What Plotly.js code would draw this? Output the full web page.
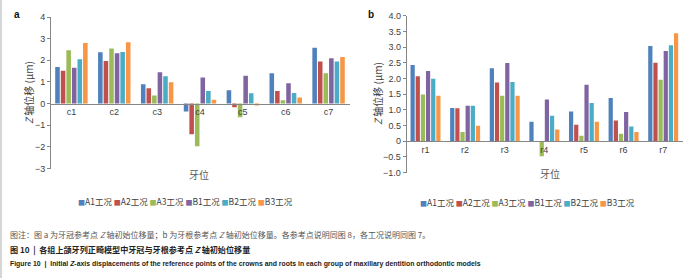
<!DOCTYPE html>
<html><head><meta charset="utf-8">
<script src="https://cdn.plot.ly/plotly-3.0.1.min.js"></script>
<style>html,body{margin:0;padding:0;background:#fff;}#chart{width:696px;height:278px;}</style>
</head><body><div id="chart"></div>
<script>
// ---- data ----
const categoriesA = ['c1','c2','c3','c4','c5','c6','c7'];
const categoriesB = ['r1','r2','r3','r4','r5','r6','r7'];
const seriesNames = ['A1工况','A2工况','A3工况','B1工况','B2工况','B3工况'];
const seriesColors = ['#4F81BD','#C0504D','#9BBB59','#8064A2','#4BACC6','#F79646'];

// panel a: crown reference points
const crownA1 = [1.69, 2.37, 0.89, -0.37, 0.62, 1.40, 2.58];
const crownA2 = [1.52, 1.97, 0.71, -1.42, -0.17, 0.58, 1.94];
const crownA3 = [2.46, 2.55, 0.37, -1.97, -0.63, 0.15, 1.40];
const crownB1 = [1.66, 2.32, 1.45, 1.20, 1.28, 0.94, 2.09];
const crownB2 = [2.05, 2.38, 1.26, 0.58, 0.48, 0.49, 1.94];
const crownB3 = [2.80, 2.83, 0.98, 0.18, -0.09, 0.28, 2.15];

// panel b: root reference points
const rootA1 = [2.43, 1.06, 2.33, 0.62, 0.95, 1.38, 3.04];
const rootA2 = [2.07, 1.05, 1.87, -0.03, 0.52, 0.66, 2.50];
const rootA3 = [1.49, 0.29, 1.45, -0.48, 0.17, 0.24, 1.96];
const rootB1 = [2.24, 1.13, 2.49, 1.33, 1.80, 0.93, 2.88];
const rootB2 = [1.99, 1.13, 1.89, 0.81, 1.22, 0.47, 3.06];
const rootB3 = [1.45, 0.49, 1.45, 0.37, 0.62, 0.29, 3.44];

const tickValsA = [-3,-2,-1,0,1,2,3,4];
const tickTextA = ['\u22123','\u22122','\u22121','0','1','2','3','4'];
const tickValsB = [-1,-0.5,0,0.5,1,1.5,2,2.5,3,3.5,4];
const tickTextB = ['\u22121.0','\u22120.5','0','0.5','1.0','1.5','2.0','2.5','3.0','3.5','4.0'];

const yTitle = '<i>Z</i> 轴位移 (μm)';
const xTitle = '牙位';
const captionNote = '图注：图 a 为牙冠参考点 <i>Z</i> 轴初始位移量；b 为牙根参考点 <i>Z</i> 轴初始位移量。各参考点说明同图 8，各工况说明同图 7。';
const captionCn = '<b>图 10  |  各组上颌牙列正畸模型中牙冠与牙根参考点 <i>Z</i> 轴初始位移量</b>';
const captionEn = '<b>Figure 10  |  Initial <i>Z</i>-axis displacements of the reference points of the crowns and roots in each group of maxillary dentition orthodontic models</b>';

// ---- layout geometry ----
const W = 696, H = 278;
const fx = p => p / W;
const fy = p => 1 - p / H;
const rangeA = [-3, 4], rangeB = [-1, 4];
const domAx = [fx(50), fx(350)], domAy = [fy(168.5), fy(17)];
const domBx = [fx(405.7), fx(683)], domBy = [fy(172.5), fy(15.8)];
const zeroPos = (dom, r) => dom[0] + (0 - r[0]) / (r[1] - r[0]) * (dom[1] - dom[0]);

const crown = [crownA1, crownA2, crownA3, crownB1, crownB2, crownB3];
const root = [rootA1, rootA2, rootA3, rootB1, rootB2, rootB3];

const traces = [];
crown.forEach((vals, i) => traces.push({
  type: 'bar', x: categoriesA, y: vals, name: seriesNames[i],
  marker: {color: seriesColors[i], line: {width: 0}},
  xaxis: 'x', yaxis: 'y', showlegend: false, hoverinfo: 'none'
}));
root.forEach((vals, i) => traces.push({
  type: 'bar', x: categoriesB, y: vals, name: seriesNames[i],
  marker: {color: seriesColors[i], line: {width: 0}},
  xaxis: 'x2', yaxis: 'y2', showlegend: false, hoverinfo: 'none'
}));

const axisGrey = '#868686';
const tickFont = {family: 'Liberation Sans, Arial, sans-serif', size: 9, color: '#404040'};
const cjk = 'Noto Sans CJK SC, sans-serif';

const legendText = seriesNames.map((n, i) =>
  `<span style="color:${seriesColors[i]};font-size:7px">■</span>${n}`).join(' ');

const xAxisCommon = {
  type: 'category', showline: true, linecolor: axisGrey, linewidth: 1,
  showgrid: false, zeroline: false, ticks: '', tickfont: tickFont,
  anchor: 'free', fixedrange: true
};
const yAxisCommon = {
  showline: true, linecolor: axisGrey, linewidth: 1, showgrid: false,
  zeroline: false, ticks: 'outside', ticklen: 3, tickcolor: axisGrey,
  tickfont: tickFont, fixedrange: true
};

const layout = {
  width: W, height: H,
  margin: {l: 0, r: 0, t: 0, b: 0, autoexpand: false},
  paper_bgcolor: '#fff', plot_bgcolor: 'rgba(0,0,0,0)',
  barmode: 'group', bargap: 0.22, bargroupgap: 0.18,
  showlegend: false,
  xaxis: Object.assign({}, xAxisCommon, {domain: domAx, position: zeroPos(domAy, rangeA)}),
  yaxis: Object.assign({}, yAxisCommon, {domain: domAy, range: rangeA, tickvals: tickValsA, ticktext: tickTextA, anchor: 'free', position: domAx[0]}),
  xaxis2: Object.assign({}, xAxisCommon, {domain: domBx, position: zeroPos(domBy, rangeB)}),
  yaxis2: Object.assign({}, yAxisCommon, {domain: domBy, range: rangeB, tickvals: tickValsB, ticktext: tickTextB, anchor: 'free', position: domBx[0]}),
  shapes: [
    {type: 'line', xref: 'paper', yref: 'paper', x0: fx(1), x1: fx(1), y0: 0, y1: 1, line: {color: '#c8c8c8', width: 1.5}}
  ],
  annotations: [
    {text: '<b>a</b>', xref: 'paper', yref: 'paper', x: fx(17), y: fy(14), showarrow: false, xanchor: 'center', yanchor: 'middle', font: {family: 'Liberation Sans, Arial', size: 10, color: '#111'}},
    {text: '<b>b</b>', xref: 'paper', yref: 'paper', x: fx(371), y: fy(14), showarrow: false, xanchor: 'center', yanchor: 'middle', font: {family: 'Liberation Sans, Arial', size: 10, color: '#111'}},
    {text: yTitle, xref: 'paper', yref: 'paper', x: fx(29), y: fy(93), textangle: -90, showarrow: false, xanchor: 'center', yanchor: 'middle', font: {family: cjk, size: 10, color: '#404040'}},
    {text: yTitle, xref: 'paper', yref: 'paper', x: fx(377), y: fy(94), textangle: -90, showarrow: false, xanchor: 'center', yanchor: 'middle', font: {family: cjk, size: 10, color: '#404040'}},
    {text: xTitle, xref: 'paper', yref: 'paper', x: fx(199), y: fy(174), showarrow: false, xanchor: 'center', yanchor: 'middle', font: {family: cjk, size: 10, color: '#595959'}},
    {text: xTitle, xref: 'paper', yref: 'paper', x: fx(550), y: fy(173), showarrow: false, xanchor: 'center', yanchor: 'middle', font: {family: cjk, size: 10, color: '#595959'}},
    {text: legendText, xref: 'paper', yref: 'paper', x: fx(185), y: fy(200.5), showarrow: false, xanchor: 'center', yanchor: 'middle', font: {family: cjk, size: 8.5, color: '#404040'}},
    {text: legendText, xref: 'paper', yref: 'paper', x: fx(527), y: fy(202), showarrow: false, xanchor: 'center', yanchor: 'middle', font: {family: cjk, size: 8.5, color: '#404040'}},
    {text: captionNote, xref: 'paper', yref: 'paper', x: fx(8), y: fy(234.5), showarrow: false, xanchor: 'left', yanchor: 'middle', font: {family: cjk, size: 8.0, color: '#555'}},
    {text: captionCn, xref: 'paper', yref: 'paper', x: fx(8), y: fy(249.5), showarrow: false, xanchor: 'left', yanchor: 'middle', font: {family: cjk, size: 8.1, color: '#222'}},
    {text: captionEn, xref: 'paper', yref: 'paper', x: fx(8), y: fy(263.5), showarrow: false, xanchor: 'left', yanchor: 'middle', font: {family: 'Liberation Sans Narrow, Liberation Sans, sans-serif', size: 6.9, color: '#222'}}
  ]
};

Plotly.newPlot('chart', traces, layout, {staticPlot: true, displayModeBar: false});
</script>
</body></html>
